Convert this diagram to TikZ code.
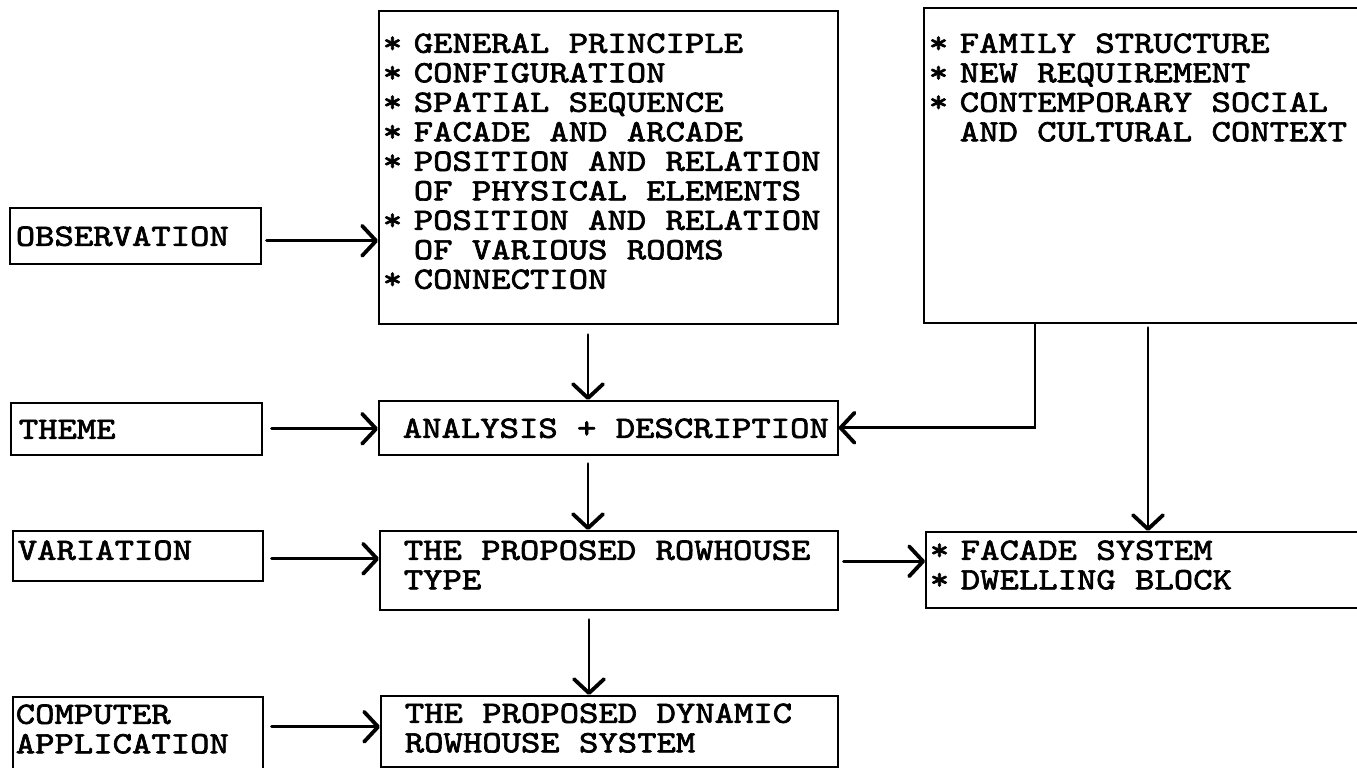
\documentclass[tikz,border=0pt]{standalone}
\usepackage{fontspec}
\usetikzlibrary{arrows.meta,calc}
\newfontfamily\monofam{lmmono10-regular}[Extension=.otf, FakeBold=2.2, FakeStretch=1.19]
\newlength\bw
\newlength\bdx
\newlength\sgap
\newcommand\tline[1]{\hbox to \bw{\hskip\bdx\raisebox{0pt}[0pt][0pt]{#1}\hfil}}
\newcommand\sline[1]{\tline{\makebox[\sgap][l]{*}#1}}
\newcommand\iline[1]{\tline{\hspace*{\sgap}#1}}
\newcommand\boxtext[5]{\setlength\bw{#1}\setlength\bdx{#4}%
  \vbox to #2{\baselineskip=29.5pt\lineskiplimit=-1000pt\lineskip=0pt\parindent=0pt
  \vskip #3\relax #5\vfill}}
\tikzset{
  box/.style={draw, line width=1.6pt, inner sep=0pt, anchor=north west,
    font=\monofam\fontsize{31pt}{29.5pt}\selectfont},
  arr/.style={line width=2.8pt, line cap=round,
    -{Straight Barb[length=14pt,width=30pt,line width=3.8pt,round]}}
}
\begin{document}
\begin{tikzpicture}[x=1pt,y=-1pt]
\fill[white] (0,0) rectangle (1357,768);
\path[use as bounding box] (0,0) rectangle (1357,768);
\clip (0,0) rectangle (1357,768);

\node[box] (mid) at (378,10) {\setlength\sgap{31pt}\boxtext{459pt}{313pt}{42pt}{4pt}{%
  \sline{GENERAL PRINCIPLE}
  \sline{CONFIGURATION}
  \sline{SPATIAL SEQUENCE}
  \sline{FACADE AND ARCADE}
  \sline{POSITION AND RELATION}
  \iline{OF PHYSICAL ELEMENTS}
  \sline{POSITION AND RELATION}
  \iline{OF VARIOUS ROOMS}
  \sline{CONNECTION}}};

\node[box] (ctx) at (923,7) {\setlength\sgap{31pt}\boxtext{447pt}{315pt}{45pt}{5pt}{%
  \sline{FAMILY STRUCTURE}
  \sline{NEW REQUIREMENT}
  \sline{CONTEMPORARY SOCIAL}
  \iline{AND CULTURAL CONTEXT}}};

\node[box] (obs) at (9,207) {\boxtext{251pt}{56pt}{38pt}{6pt}{\tline{OBSERVATION}}};
\node[box] (theme) at (10,402) {\boxtext{251pt}{52pt}{36pt}{8pt}{\tline{THEME}}};
\node[box] (ana) at (378,400) {\boxtext{459pt}{54pt}{37pt}{24pt}{\tline{ANALYSIS + DESCRIPTION}}};
\node[box] (var) at (12,530) {\boxtext{250pt}{50pt}{29pt}{5pt}{\tline{VARIATION}}};
\node[box] (row) at (379,530) {\boxtext{458pt}{79pt}{29pt}{24pt}{%
  \tline{THE PROPOSED ROWHOUSE}
  \tline{TYPE}}};
\node[box] (fac) at (925,531) {\setlength\sgap{31pt}\boxtext{445pt}{76pt}{28pt}{4pt}{%
  \sline{FACADE SYSTEM}
  \sline{DWELLING BLOCK}}};
\node[box] (comp) at (12,696) {\boxtext{250pt}{80pt}{27pt}{3pt}{%
  \tline{COMPUTER}
  \tline{APPLICATION}}};
\node[box] (dyn) at (380,695) {\boxtext{457pt}{71pt}{27pt}{24pt}{%
  \tline{THE PROPOSED DYNAMIC}
  \tline{ROWHOUSE SYSTEM}}};

% horizontal arrows from the left column
\draw[arr, shorten <=5pt] ($(obs.east)+(0,5)$) -- ($(obs.east -| mid.west)+(0,5)$);
\draw[arr, shorten <=9pt] (theme.east) -- (theme.east -| ana.west);
\draw[arr, shorten <=8pt] ($(var.east)+(0,3)$) -- ($(var.east -| row.west)+(0,3)$);
\draw[arr, shorten <=8pt] ($(comp.east)+(0,-10)$) -- ($(comp.east -| dyn.west)+(0,-10)$);

% vertical arrows in the middle column
\coordinate (m1) at ($(mid.south west)+(210,0)$);
\coordinate (m2) at ($(ana.south west)+(210,0)$);
\coordinate (m3) at ($(row.south west)+(210,0)$);
\draw[arr, shorten <=10pt] (m1) -- (m1 |- ana.north);
\draw[arr, shorten <=8pt] (m2) -- (m2 |- row.north);
\draw[arr, shorten <=9pt] (m3) -- (m3 |- dyn.north);

% rowhouse to facade
\draw[arr, shorten <=5pt] ($(row.east)+(0,-9)$) -- ($(row.east -| fac.west)+(0,-9)$);

% context box connectors
\coordinate (c1) at ($(ctx.south west)+(112,0)$);
\coordinate (c2) at ($(ctx.south west)+(225,0)$);
\draw[arr, line cap=butt] (c1) -- (c1 |- ana.east) -- (ana.east);
\draw[arr, shorten <=4pt] (c2) -- (c2 |- fac.north);
\end{tikzpicture}
\end{document}
